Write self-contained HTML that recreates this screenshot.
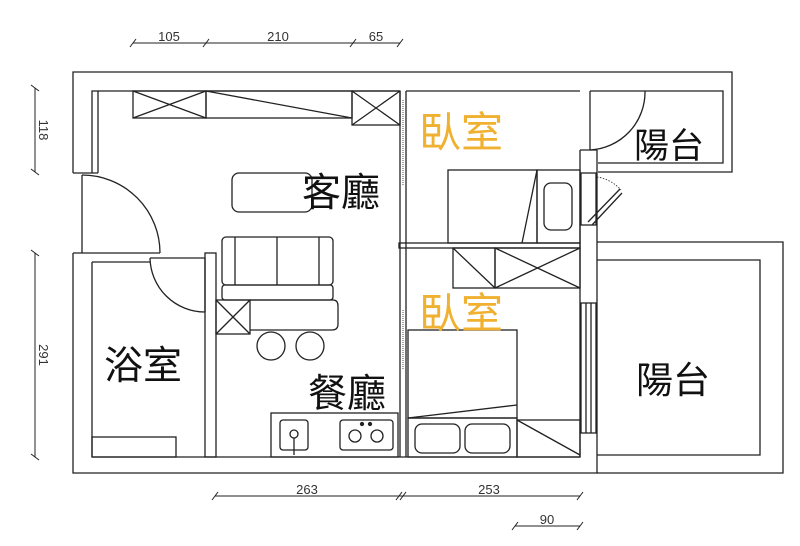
<!DOCTYPE html>
<html><head><meta charset="utf-8"><style>
html,body{margin:0;padding:0;background:#fff;}
svg{display:block;}
text{font-family:"Liberation Sans","Noto Sans CJK TC",sans-serif;}
</style></head><body>
<svg width="800" height="546" viewBox="0 0 800 546" xmlns="http://www.w3.org/2000/svg">
<rect width="800" height="546" fill="#fff"/>
<g fill="none" stroke="#222" stroke-width="1.3">
<polyline points="73,173 73,72 732,72 732,172 598,172"/>
<polyline points="92,173 92,91 400,91"/>
<line x1="98" y1="91" x2="98" y2="173"/>
<line x1="73" y1="173" x2="98" y2="173"/>
<polyline points="590,91 723,91 723,163 598,163"/>
<line x1="406" y1="91" x2="580" y2="91"/>
<line x1="82" y1="175" x2="82" y2="253"/>
<path d="M82,175 A78,78 0 0 1 160,253"/>
<line x1="73" y1="253" x2="160" y2="253"/>
<polyline points="73,253 73,473 598,473"/>
<line x1="92" y1="457" x2="580" y2="457"/>
<line x1="92" y1="262" x2="92" y2="457"/>
<line x1="92" y1="262" x2="150" y2="262"/>
<line x1="150" y1="258" x2="205" y2="258"/>
<rect x="205" y="253" width="11" height="204"/>
<line x1="205" y1="258" x2="205" y2="312"/>
<path d="M150,258 A55,55 0 0 0 205,312"/>
<rect x="92" y="437" width="84" height="20"/>
<rect x="133" y="91" width="73" height="27"/>
<line x1="133" y1="91" x2="206" y2="118"/><line x1="133" y1="118" x2="206" y2="91"/>
<rect x="206" y="91" width="146" height="27"/>
<line x1="206" y1="91" x2="352" y2="118"/>
<rect x="352" y="91" width="48" height="34"/>
<line x1="352" y1="91" x2="400" y2="125"/><line x1="352" y1="125" x2="400" y2="91"/>
<line x1="400" y1="91" x2="400" y2="457"/>
<line x1="406" y1="91" x2="406" y2="457"/>
<line x1="403" y1="100" x2="403" y2="185" stroke-dasharray="1,1" stroke-width="0.8"/>
<line x1="403" y1="310" x2="403" y2="370" stroke-dasharray="1,1" stroke-width="0.8"/>
<rect x="232" y="173" width="80" height="39" rx="7"/>
<rect x="222" y="237" width="111" height="48" rx="4"/>
<line x1="235" y1="237" x2="235" y2="285"/><line x1="277" y1="237" x2="277" y2="285"/><line x1="319" y1="237" x2="319" y2="285"/>
<rect x="222" y="285" width="111" height="15" rx="3"/>
<rect x="216" y="300" width="34" height="34"/>
<line x1="216" y1="300" x2="250" y2="334"/><line x1="216" y1="334" x2="250" y2="300"/>
<path d="M250,300 H333 Q338,300 338,306 V324 Q338,330 332,330 H250"/>
<circle cx="271" cy="346" r="14"/><circle cx="310" cy="346" r="14"/>
<rect x="271" y="413" width="127" height="44"/>
<rect x="280" y="420" width="28" height="30" rx="3"/>
<circle cx="294" cy="434" r="4"/><line x1="294" y1="438" x2="294" y2="455"/>
<rect x="340" y="420" width="53" height="30" rx="3"/>
<circle cx="355" cy="436" r="6"/><circle cx="377" cy="436" r="6"/>
<circle cx="362" cy="424" r="1.5" fill="#222"/><circle cx="370" cy="424" r="1.5" fill="#222"/>
<rect x="399" y="243" width="181" height="5"/>
<rect x="448" y="170" width="89" height="73"/>
<line x1="537" y1="170" x2="522" y2="243"/>
<rect x="537" y="170" width="43" height="73"/>
<rect x="544" y="183" width="28" height="47" rx="7"/>
<line x1="580" y1="150" x2="580" y2="457"/>
<line x1="597" y1="150" x2="597" y2="473"/>
<line x1="580" y1="150" x2="597" y2="150"/>
<rect x="581" y="173" width="15" height="52"/>
<line x1="588" y1="222" x2="620" y2="189"/><line x1="592" y1="225" x2="622" y2="193"/>
<path d="M597,177 A40,40 0 0 1 621,190" stroke-dasharray="1.5,1.5" stroke-width="0.8"/>
<line x1="590" y1="91" x2="590" y2="150"/>
<path d="M590,150 A58,58 0 0 0 645,91"/>
<rect x="453" y="248" width="42" height="40"/>
<line x1="453" y1="248" x2="495" y2="288"/>
<rect x="495" y="248" width="85" height="40"/>
<line x1="495" y1="248" x2="580" y2="288"/><line x1="495" y1="288" x2="580" y2="248"/>
<rect x="408" y="330" width="109" height="88"/>
<line x1="408" y1="418" x2="517" y2="405"/>
<rect x="408" y="418" width="109" height="39"/>
<rect x="415" y="424" width="45" height="29" rx="7"/>
<rect x="465" y="424" width="45" height="29" rx="7"/>
<rect x="517" y="420" width="63" height="37"/>
<line x1="517" y1="420" x2="580" y2="455"/>
<rect x="581" y="303" width="15" height="130"/>
<line x1="586" y1="303" x2="586" y2="433"/><line x1="591" y1="303" x2="591" y2="433"/>
<polyline points="597,242 783,242 783,473 597,473"/>
<polyline points="597,260 760,260 760,455 597,455"/>
<g stroke-width="1">
<line x1="133" y1="43" x2="400" y2="43"/>
<line x1="130" y1="47" x2="136" y2="39"/><line x1="203" y1="47" x2="209" y2="39"/><line x1="350" y1="47" x2="356" y2="39"/><line x1="397" y1="47" x2="403" y2="39"/>
<line x1="35" y1="88" x2="35" y2="172"/>
<line x1="31" y1="85" x2="39" y2="91"/><line x1="31" y1="169" x2="39" y2="175"/>
<line x1="35" y1="253" x2="35" y2="457"/>
<line x1="31" y1="250" x2="39" y2="256"/><line x1="31" y1="454" x2="39" y2="460"/>
<line x1="215" y1="496" x2="580" y2="496"/>
<line x1="212" y1="500" x2="218" y2="492"/><line x1="396" y1="500" x2="402" y2="492"/><line x1="400" y1="500" x2="406" y2="492"/><line x1="577" y1="500" x2="583" y2="492"/>
<line x1="515" y1="526" x2="580" y2="526"/>
<line x1="512" y1="530" x2="518" y2="522"/><line x1="577" y1="530" x2="583" y2="522"/>
</g>
</g>
<g fill="#333" font-size="13">
<text x="169" y="41" text-anchor="middle">105</text>
<text x="278" y="41" text-anchor="middle">210</text>
<text x="376" y="41" text-anchor="middle">65</text>
<text x="307" y="494" text-anchor="middle">263</text>
<text x="489" y="494" text-anchor="middle">253</text>
<text x="547" y="524" text-anchor="middle">90</text>
<text transform="translate(39,130) rotate(90)" text-anchor="middle">118</text>
<text transform="translate(39,355) rotate(90)" text-anchor="middle">291</text>
</g>
<g font-size="39" fill="#111">
<text x="302" y="206">客廳</text>
<text x="308" y="407">餐廳</text>
<text x="104" y="379">浴室</text>
<text x="636" y="393" font-size="37">陽台</text>
<text x="634" y="158" font-size="35">陽台</text>
</g>
<g font-size="42" fill="#f0b030">
<text x="419" y="147">臥室</text>
<text x="419" y="328">臥室</text>
</g>
</svg>
</body></html>
